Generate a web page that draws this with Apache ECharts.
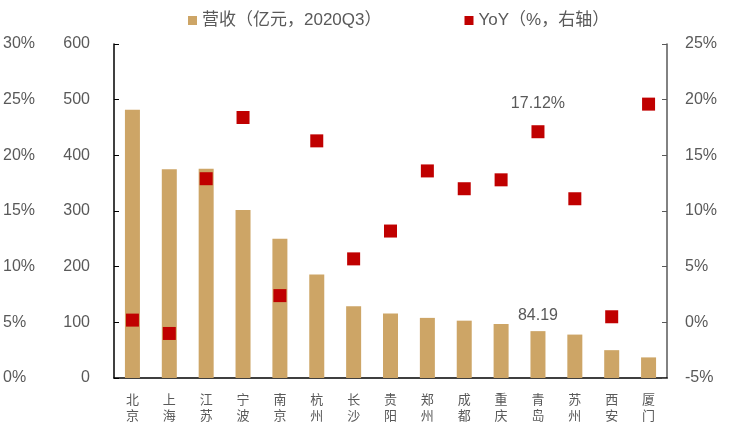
<!DOCTYPE html>
<html>
<head>
<meta charset="utf-8">
<script src="https://cdn.jsdelivr.net/npm/echarts@6/dist/echarts.min.js"></script>
<style>
html, body { margin: 0; padding: 0; background: #fff; }
#chart { width: 740px; height: 425px; }
</style>
</head>
<body>
<div id="chart"></div>
<script>
// 城市
const cities = ['北京', '上海', '江苏', '宁波', '南京', '杭州', '长沙', '贵阳', '郑州', '成都', '重庆', '青岛', '苏州', '西安', '厦门']
// 营收（亿元，2020Q3）
const revenue = [482, 375, 376, 302, 250, 186, 129, 116, 108, 103, 97, 84.19, 78, 50, 37]
// YoY（%）
const yoy = [0.2, -1.0, 12.9, 18.4, 2.4, 16.3, 5.7, 8.2, 13.6, 12.0, 12.8, 17.12, 11.1, 0.5, 19.6]
const labelCity = '青岛'

const grey = '#595959'
const font = '"Liberation Sans", Arial, "Noto Sans CJK SC", sans-serif'

const chart = echarts.init(document.getElementById('chart'))

chart.setOption({
    animation: false,
    textStyle: { fontFamily: font },
    legend: {
        top: 7,
        left: 183,
        itemGap: 83,
        itemWidth: 9,
        itemHeight: 9,
        icon: 'rect',
        textStyle: { color: grey, fontSize: 17, fontFamily: font },
        data: ['营收（亿元，2020Q3）', 'YoY（%，右轴）']
    },
    grid: { left: 112, right: 73, top: 44, bottom: 47 },
    xAxis: {
        type: 'category',
        data: cities,
        boundaryGap: true,
        axisLine: { lineStyle: { color: '#000', width: 1.5 } },
        axisTick: { inside: true, length: 5, lineStyle: { color: '#000' } },
        axisLabel: {
            interval: 0,
            margin: 13,
            color: grey,
            fontSize: 13,
            lineHeight: 16,
            fontFamily: '"Noto Sans CJK SC", sans-serif',
            formatter: v => v.split('').join('\n')
        }
    },
    yAxis: [
        {
            type: 'value', min: 0, max: 600, interval: 100, position: 'left',
            axisLine: { show: true, lineStyle: { color: '#000', width: 1.5 } },
            axisTick: { show: true, inside: true, length: 5, lineStyle: { color: '#000' } },
            splitLine: { show: false },
            axisLabel: { color: grey, fontSize: 16, margin: 24 }
        },
        {
            type: 'value', min: -5, max: 25, interval: 5, position: 'right',
            axisLine: { show: true, lineStyle: { color: grey, width: 1.5 } },
            axisTick: { show: true, inside: true, length: 5, lineStyle: { color: grey } },
            splitLine: { show: false },
            axisLabel: { color: grey, fontSize: 16, margin: 18, formatter: '{value}%' }
        },
        {
            type: 'value', min: 0, max: 30, interval: 5, position: 'left',
            axisLine: { show: false },
            axisTick: { show: false },
            splitLine: { show: false },
            axisLabel: { color: grey, fontSize: 16, margin: 111, align: 'left', formatter: '{value}%' }
        }
    ],
    series: [
        {
            name: '营收（亿元，2020Q3）',
            type: 'bar',
            yAxisIndex: 0,
            barWidth: 15,
            itemStyle: { color: '#CDA566' },
            data: revenue.map((v, i) => cities[i] === labelCity
                ? { value: v, label: { show: true, position: 'top', distance: 8, color: grey, fontSize: 16 } }
                : v)
        },
        {
            name: 'YoY（%，右轴）',
            type: 'scatter',
            yAxisIndex: 1,
            symbol: 'rect',
            symbolSize: 13,
            itemStyle: { color: '#C00000', opacity: 1 },
            data: yoy.map((v, i) => cities[i] === labelCity
                ? { value: v, label: { show: true, position: 'top', distance: 14, color: grey, fontSize: 16, formatter: '{c}%' } }
                : v)
        }
    ]
})
</script>
</body>
</html>
